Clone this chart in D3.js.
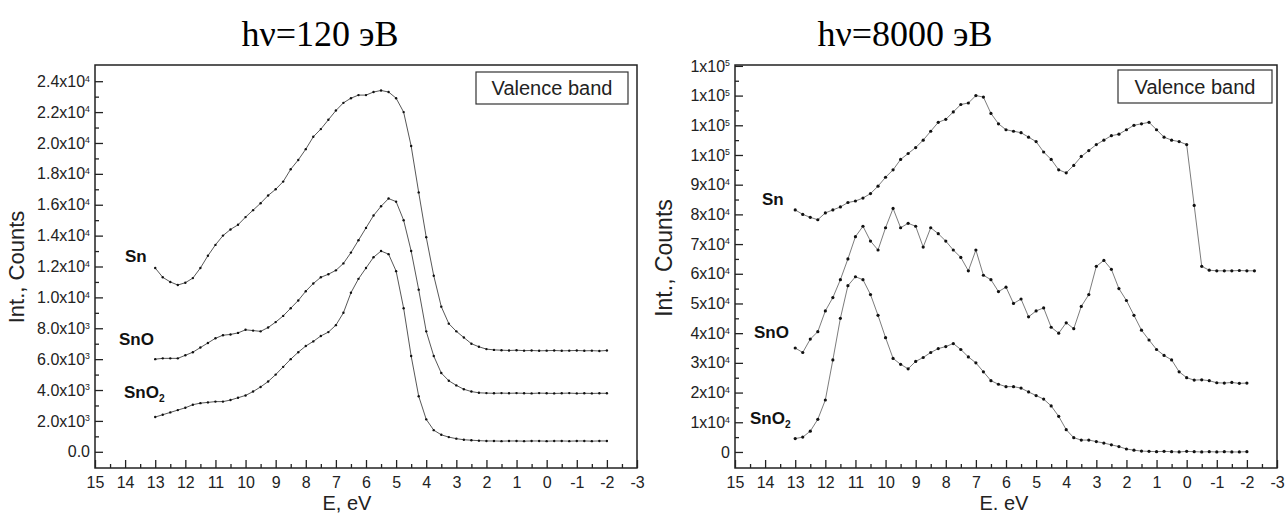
<!DOCTYPE html>
<html>
<head>
<meta charset="utf-8">
<script src="https://cdn.jsdelivr.net/npm/d3@7"></script>
<style>
  body { margin: 0; background: #fff; }
  svg { display: block; font-family: Arial, "Liberation Sans", sans-serif; }
</style>
</head>
<body>
<svg id="chart" width="1286" height="514"></svg>
<script>
// photon energy grid of the spectra (eV), read every 0.25 eV
var energyLeft = [13, 12.75, 12.5, 12.25, 12, 11.75, 11.5, 11.25, 11, 10.75, 10.5, 10.25,
  10, 9.75, 9.5, 9.25, 9, 8.75, 8.5, 8.25, 8, 7.75, 7.5, 7.25,
  7, 6.75, 6.5, 6.25, 6, 5.75, 5.5, 5.25, 5, 4.75, 4.5, 4.25,
  4, 3.75, 3.5, 3.25, 3, 2.75, 2.5, 2.25, 2, 1.75, 1.5, 1.25,
  1, 0.75, 0.5, 0.25, 0, -0.25, -0.5, -0.75, -1, -1.25, -1.5, -1.75,
  -2];
var energyRight = energyLeft.concat([-2.25]);

// hv = 120 eV
var snLeft = [11900, 11300, 11000, 10800, 10950, 11250, 11900, 12700, 13400, 14000, 14400, 14700,
  15200, 15650, 16100, 16600, 17000, 17500, 18300, 18900, 19600, 20400, 20900, 21500,
  22100, 22600, 22900, 23100, 23100, 23300, 23400, 23300, 22900, 22000, 19800, 16800,
  13900, 11400, 9400, 8300, 7800, 7400, 7000, 6800, 6650, 6600, 6580, 6560,
  6580, 6550, 6560, 6540, 6550, 6560, 6540, 6550, 6560, 6540, 6550, 6530,
  6560];
var snoLeft = [6000, 6050, 6050, 6050, 6250, 6450, 6750, 7050, 7350, 7550, 7600, 7700,
  7900, 7850, 7800, 8050, 8400, 8800, 9300, 9800, 10400, 10900, 11300, 11500,
  11750, 12200, 12900, 13700, 14500, 15300, 15900, 16400, 16200, 15000, 13000, 10500,
  7800, 6200, 5100, 4600, 4300, 4050, 3900, 3820, 3800, 3790, 3800, 3790,
  3800, 3790, 3780, 3800, 3790, 3780, 3790, 3800, 3780, 3790, 3780, 3790,
  3790];
var sno2Left = [2250, 2400, 2550, 2700, 2850, 3050, 3150, 3200, 3250, 3250, 3350, 3500,
  3650, 3900, 4200, 4550, 5000, 5500, 6000, 6450, 6850, 7150, 7500, 7750,
  8200, 9000, 10300, 11200, 11900, 12600, 13000, 12800, 11700, 9300, 6200, 3600,
  2100, 1400, 1100, 950, 850, 780, 750, 720, 700, 700, 690, 700,
  700, 690, 700, 700, 690, 700, 700, 690, 700, 700, 690, 700,
  700];

// hv = 8000 eV
var snRight = [81500, 80000, 79000, 78200, 80500, 81500, 82500, 84000, 84500, 85500, 87000, 89500,
  92500, 95000, 98500, 100500, 102500, 105000, 108000, 111000, 112000, 114500, 117000, 117500,
  120000, 119500, 114000, 110500, 108500, 108000, 107500, 106000, 104500, 101000, 98500, 95000,
  94000, 96500, 99500, 101500, 103500, 105000, 106500, 107000, 108500, 110000, 110500, 111000,
  108500, 106000, 105000, 104500, 103500, 83000, 62500, 61200, 61000, 61000, 61000, 61100,
  61000, 61000];
var snoRight = [35000, 33500, 38000, 40500, 47500, 52000, 58000, 65000, 72500, 76000, 71000, 68000,
  75500, 82000, 75500, 77000, 76000, 69000, 75500, 73500, 71000, 68000, 65500, 61000,
  68000, 59500, 58000, 54000, 55500, 50000, 51500, 45500, 47500, 48500, 42000, 40000,
  43500, 41500, 49000, 53000, 62500, 64500, 61500, 55000, 51000, 46000, 41000, 37700,
  34500, 32500, 31000, 27000, 25000, 24200, 24300, 24000, 23300, 23200, 23400, 23100,
  23200];
var sno2Right = [4500, 5000, 7000, 11000, 17500, 31000, 45000, 56000, 59000, 58000, 53000, 46000,
  38500, 31500, 29500, 28000, 30500, 31800, 33500, 34800, 35500, 36500, 34500, 32000,
  30000, 27000, 24000, 22800, 22000, 22000, 21500, 20200, 19000, 17800, 15500, 12000,
  7500, 4800, 4000, 4000, 3500, 3000, 2400, 1800, 1000, 600, 300, 200,
  100, 200, 100, 0, 200, 100, 0, 100, 0, 100, 0, 0,
  100];

// ticks
var xTickValues = [15, 14, 13, 12, 11, 10, 9, 8, 7, 6, 5, 4, 3, 2, 1, 0, -1, -2, -3];
var leftYTicks = [0, 2000, 4000, 6000, 8000, 10000, 12000, 14000, 16000, 18000, 20000, 22000, 24000];
var leftYLabels = ["0.0", "2.0x10^3", "4.0x10^3", "6.0x10^3", "8.0x10^3", "1.0x10^4", "1.2x10^4",
  "1.4x10^4", "1.6x10^4", "1.8x10^4", "2.0x10^4", "2.2x10^4", "2.4x10^4"];
var rightYTicks = [0, 10000, 20000, 30000, 40000, 50000, 60000, 70000, 80000, 90000, 100000, 110000, 120000, 130000];
var rightYLabels = ["0", "1x10^4", "2x10^4", "3x10^4", "4x10^4", "5x10^4", "6x10^4", "7x10^4",
  "8x10^4", "9x10^4", "1x10^5", "1x10^5", "1x10^5", "1x10^5"];

var svg = d3.select("#chart");

function midpoints(arr) {
  return arr.slice(1).map((t, i) => (t + arr[i]) / 2);
}

// label like "2.0x10^3" -> text + superscript
function supText(sel, label) {
  var parts = label.split("^");
  sel.text("");
  sel.append("tspan").text(parts[0]);
  if (parts[1]) {
    sel.append("tspan").attr("dy", "-0.6em").attr("font-size", "0.55em").text(parts[1]);
  }
}

function drawPanel(p) {
  var x = d3.scaleLinear().domain([15, -3]).range([p.left, p.right]);
  var y = d3.scaleLinear().domain(p.yDomain).range([p.bottom, p.top]);
  var g = svg.append("g");

  // title
  g.append("text")
    .attr("x", p.titleX).attr("y", 46)
    .attr("text-anchor", "middle")
    .attr("font-family", "'Liberation Serif', 'Times New Roman', serif")
    .attr("font-size", 36)
    .text(p.title);

  // frame
  g.append("rect")
    .attr("x", p.left).attr("y", p.top)
    .attr("width", p.right - p.left).attr("height", p.bottom - p.top)
    .attr("fill", "none").attr("stroke", "#222").attr("stroke-width", 1.5);

  // x axis, ticks pointing in
  var xa = g.append("g")
    .attr("transform", `translate(0,${p.bottom})`)
    .call(d3.axisBottom(x).tickValues(xTickValues).tickSize(-8).tickSizeOuter(0)
      .tickPadding(9).tickFormat(d => String(d)));
  g.append("g")
    .attr("transform", `translate(0,${p.bottom})`)
    .call(d3.axisBottom(x).tickValues(midpoints(xTickValues)).tickSize(-4).tickSizeOuter(0).tickFormat(""));

  // y axis
  var ya = g.append("g")
    .attr("transform", `translate(${p.left},0)`)
    .call(d3.axisLeft(y).tickValues(p.yTicks).tickSize(-8).tickSizeOuter(0).tickPadding(5));
  ya.selectAll(".tick text").each(function(d, i) {
    supText(d3.select(this), p.yLabels[i]);
  });
  g.append("g")
    .attr("transform", `translate(${p.left},0)`)
    .call(d3.axisLeft(y).tickValues(midpoints(p.yTicks)).tickSize(-4).tickSizeOuter(0).tickFormat(""));

  g.selectAll(".domain").remove();
  g.selectAll(".tick line").attr("stroke", "#222").attr("stroke-width", 1.3);
  g.selectAll(".tick text").attr("fill", "#222");
  xa.attr("font-size", 16).attr("font-family", "Arial, 'Liberation Sans', sans-serif");
  ya.attr("font-size", 16).attr("font-family", "Arial, 'Liberation Sans', sans-serif");

  // axis titles
  g.append("text")
    .attr("x", p.xTitleX).attr("y", 510)
    .attr("text-anchor", "middle").attr("font-size", 20).attr("fill", "#222")
    .text(p.xTitle);
  g.append("text")
    .attr("transform", `translate(${p.yTitleX},${p.yTitleY}) rotate(-90)`)
    .attr("text-anchor", "middle").attr("font-size", p.yTitleSize).attr("fill", "#222")
    .text("Int., Counts");

  // legend box
  g.append("rect")
    .attr("x", p.box[0]).attr("y", p.box[1]).attr("width", p.box[2]).attr("height", p.box[3])
    .attr("fill", "#fff").attr("stroke", "#333").attr("stroke-width", 1.2);
  g.append("text")
    .attr("x", p.box[0] + p.box[2] / 2).attr("y", p.box[1] + p.box[3] / 2 + 7)
    .attr("text-anchor", "middle").attr("font-size", 20).attr("fill", "#222")
    .text("Valence band");

  // spectra
  var line = d3.line().x(d => x(d[0])).y(d => y(d[1]));
  p.series.forEach(function(s) {
    var pts = s.values.map((v, i) => [p.energy[i], v]);
    g.append("path").datum(pts)
      .attr("d", line)
      .attr("fill", "none").attr("stroke", "#444").attr("stroke-width", p.lineWidth);
    g.append("g").selectAll("circle")
      .data(pts)
      .join("circle")
      .attr("cx", d => x(d[0])).attr("cy", d => y(d[1]))
      .attr("r", p.r).attr("fill", "#111");

    var t = g.append("text")
      .attr("x", s.labelX).attr("y", s.labelY)
      .attr("font-size", 17).attr("font-weight", "bold").attr("fill", "#111");
    t.append("tspan").text(s.name);
    if (s.sub) t.append("tspan").attr("dy", "0.35em").attr("font-size", "0.6em").text(s.sub);
  });
}

drawPanel({
  left: 95, right: 637, top: 65, bottom: 468,
  yDomain: [-1050, 25050],
  yTicks: leftYTicks, yLabels: leftYLabels,
  energy: energyLeft,
  title: "hν=120 эВ", titleX: 320,
  xTitle: "E, eV", xTitleX: 347,
  yTitleX: 24, yTitleY: 267, yTitleSize: 22,
  box: [476, 72, 152, 32],
  lineWidth: 0.9, r: 1.2,
  series: [
    { name: "Sn", values: snLeft, labelX: 125, labelY: 262 },
    { name: "SnO", values: snoLeft, labelX: 119, labelY: 345 },
    { name: "SnO", sub: "2", values: sno2Left, labelX: 124, labelY: 398 }
  ]
});

drawPanel({
  left: 735, right: 1277, top: 65, bottom: 468,
  yDomain: [-5400, 130300],
  yTicks: rightYTicks, yLabels: rightYLabels,
  energy: energyRight,
  title: "hν=8000 эВ", titleX: 905,
  xTitle: "E. eV", xTitleX: 1004,
  yTitleX: 672, yTitleY: 258, yTitleSize: 23,
  box: [1118, 70, 154, 33],
  lineWidth: 0.7, r: 1.6,
  series: [
    { name: "Sn", values: snRight, labelX: 762, labelY: 205 },
    { name: "SnO", values: snoRight, labelX: 754, labelY: 338 },
    { name: "SnO", sub: "2", values: sno2Right, labelX: 750, labelY: 424 }
  ]
});
</script>
</body>
</html>
